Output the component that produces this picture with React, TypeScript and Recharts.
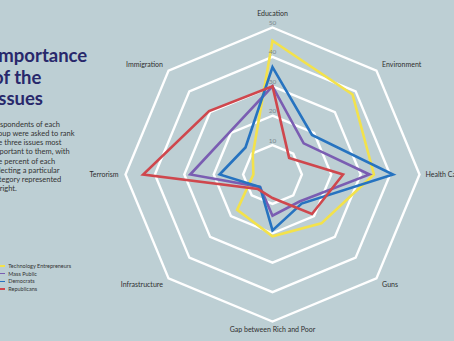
import React from 'react';
import { RadarChart, Radar, PolarGrid, PolarAngleAxis, PolarRadiusAxis, Legend } from 'recharts';

const subjects = ['Education', 'Environment', 'Health Care', 'Guns', 'Gap between Rich and Poor', 'Infrastructure', 'Terrorism', 'Immigration'];
const techEntrepreneurs = [45.5, 38.5, 34.5, 23.5, 21, 17, 6.5, 9.5];
const massPublic = [30, 15, 33, 13, 14, 6, 28, 20.5];
const democrats = [36.5, 19, 41, 14, 19, 6, 18, 13];
const republicans = [30, 8, 24, 19, 8, 7, 44, 30.5];
const radiusTicks = [0, 10, 20, 30, 40, 50];

const seriesNames = ['Technology Entrepreneurs', 'Mass Public', 'Democrats', 'Republicans'];
const seriesKeys = ['tech', 'mass', 'dem', 'rep'];
const seriesColors = ['#f3e24b', '#7a5db2', '#2673c0', '#cf474d'];

const data = subjects.map((s, i) => ({
  subject: s,
  tech: techEntrepreneurs[i],
  mass: massPublic[i],
  dem: democrats[i],
  rep: republicans[i],
}));

const CX = 272.5;
const CY = 174.5;
const R = 147;
const FONT = 'Lato, "Noto Sans", sans-serif';

function AngleTick(props: any) {
  const { x, y, payload } = props;
  const dx = x - CX;
  const dy = y - CY;
  let anchor: 'start' | 'middle' | 'end' = 'middle';
  if (dx > 1) anchor = 'start';
  else if (dx < -1) anchor = 'end';
  let off = 2.5;
  let xo = 0;
  if (Math.abs(dx) <= 1 && dy < 0) off = -4;
  if (Math.abs(dx) <= 1 && dy > 0) off = 2;
  if (Math.abs(dy) <= 1 && dx > 0) xo = -2;
  if (Math.abs(dy) <= 1 && dx < 0) xo = 1;
  return (
    <text x={x + xo} y={y + off} textAnchor={anchor} fontSize={7} fill="#2e2e2e" fontFamily={FONT}>
      {payload.value}
    </text>
  );
}

function RadiusTick(props: any) {
  const { x, y, payload } = props;
  if (payload.value === 0) return null;
  return (
    <text x={x} y={y - 2.5} textAnchor="middle" fontSize={6.5} fill="#7b878c" fontFamily={FONT}>
      {payload.value}
    </text>
  );
}

function LegendContent() {
  return (
    <div style={{ fontFamily: FONT, fontSize: 5.5, color: '#333' }}>
      {seriesNames.map((n, i) => (
        <div key={n} style={{ display: 'flex', alignItems: 'center', height: 7.75 }}>
          <span style={{ display: 'inline-block', width: 5, height: 1.5, background: seriesColors[i], marginRight: 3.3 }} />
          <span>{n}</span>
        </div>
      ))}
    </div>
  );
}

const bodyLines = [
  'Respondents of each',
  'group were asked to rank',
  'the three issues most',
  'important to them, with',
  'the percent of each',
  'selecting a particular',
  'category represented',
  'at right.',
];

export default function App() {
  return (
    <div style={{ position: 'absolute', left: 0, top: 0, width: 454, height: 341, background: '#bdcfd4', overflow: 'hidden' }}>
      <div style={{ position: 'absolute', left: -7, top: 45, fontFamily: FONT, fontWeight: 700, fontSize: 18.5, lineHeight: '21.7px', color: '#28286b', whiteSpace: 'nowrap' }}>
        <div>Importance</div>
        <div>of the</div>
        <div>Issues</div>
      </div>
      <div style={{ position: 'absolute', left: -8.5, top: 119.7, fontFamily: FONT, fontSize: 7.5, lineHeight: '9.2px', color: '#333', whiteSpace: 'nowrap' }}>
        {bodyLines.map((l) => (
          <div key={l}>{l}</div>
        ))}
      </div>
      <RadarChart width={454} height={341} data={data} cx={CX} cy={CY} outerRadius={R} margin={{ top: 0, right: 0, bottom: 0, left: 0 }} style={{ position: 'absolute', left: 0, top: 0 }}>
        <PolarGrid gridType="polygon" radialLines={false} stroke="#ffffff" strokeWidth={2.4} />
        <PolarAngleAxis dataKey="subject" tick={<AngleTick />} tickLine={false} axisLine={false} />
        <PolarRadiusAxis angle={90} domain={[0, 50]} ticks={radiusTicks as any} tickCount={6} axisLine={false} tick={<RadiusTick />} orientation="middle" />
        {seriesKeys.map((k, i) => (
          <Radar key={k} name={seriesNames[i]} dataKey={k} stroke={seriesColors[i]} strokeWidth={2.6} fill="none" fillOpacity={0} dot={false} isAnimationActive={false} />
        ))}
        <Legend verticalAlign="bottom" content={<LegendContent />} wrapperStyle={{ left: 0, top: 262, bottom: 'auto', width: 120 }} />
      </RadarChart>
    </div>
  );
}
